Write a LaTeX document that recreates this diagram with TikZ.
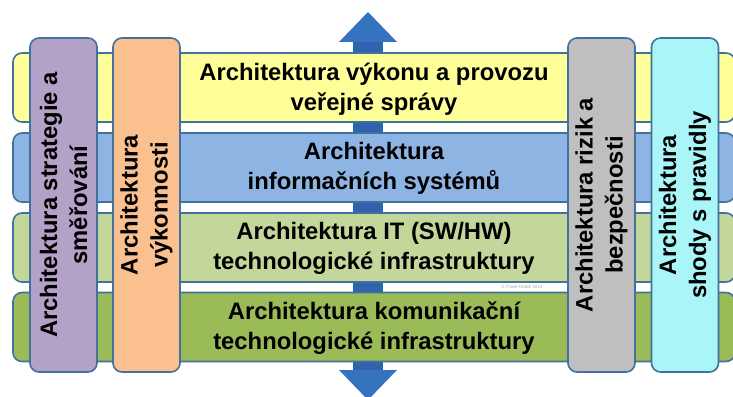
\documentclass[tikz,border=0pt]{standalone}
\usepackage{fontspec}
\setmainfont{Liberation Sans}
\definecolor{edgec}{HTML}{41719C}
\definecolor{arrowc}{HTML}{3572C0}
\definecolor{shaftc}{HTML}{2F64AD}
\definecolor{bandA}{HTML}{FFFF99}
\definecolor{bandB}{HTML}{8EB4E3}
\definecolor{bandC}{HTML}{C4D79B}
\definecolor{bandD}{HTML}{9BBB59}
\definecolor{barA}{HTML}{B3A2C7}
\definecolor{barB}{HTML}{FAC090}
\definecolor{barC}{HTML}{BFBFBF}
\definecolor{barD}{HTML}{AAF5F7}
\begin{document}
\begin{tikzpicture}[x=1pt,y=-1pt,
  lbl/.style={font=\bfseries\fontsize{23.8}{30}\selectfont, align=center, text=black},
  band/.style={draw=edgec, line width=1.6pt, rounded corners=9pt, inner sep=0pt,
    minimum width=722pt, minimum height=69pt, lbl},
  pillar/.style={draw=edgec, line width=1.6pt, rounded corners=9pt, inner sep=0pt,
    rotate=90, minimum width=334pt, minimum height=67pt, lbl}]
\useasboundingbox[fill=white] (0,0) rectangle (733,396);

% vertical double arrow behind the layers
\fill[shaftc] (353,40) rectangle (383,372);
\fill[arrowc] (368,12) -- (397,42) -- (339,42) -- cycle;
\fill[arrowc] (368,400) -- (397,370) -- (339,370) -- cycle;

% horizontal layers
\node[band, fill=bandA] (l1) at (374,87.5) {\hspace*{0pt}};
\node[band, fill=bandB] (l2) at (374,167.5) {\hspace*{0pt}};
\node[band, fill=bandC] (l3) at (374,247.5) {\hspace*{0pt}};
\node[band, fill=bandD] (l4) at (374,327) {\hspace*{0pt}};

\node[lbl] (t1) at (374,89) {Architektura výkonu a provozu\\veřejné správy};
\node[lbl] (t2) at (374,168) {Architektura\\informačních systémů};
\node[lbl] (t3) at (374,248) {Architektura IT (SW/HW)\\technologické infrastruktury};
\node[lbl] (t4) at (374,328) {Architektura komunikační\\technologické infrastruktury};

\node[font=\fontsize{4.5}{5}\selectfont, text=black!35] (copy) at (522,287) {© Pavel Hrabě 2014};

% vertical cross-cutting architectures
\node[pillar, fill=barA] (p1) at (63.5,205) {Architektura strategie a\\směřování};
\node[pillar, fill=barB] (p2) at (146.5,205) {Architektura\\výkonnosti};
\node[pillar, fill=barC] (p3) at (601.5,205) {Architektura rizik a\\bezpečnosti};
\node[pillar, fill=barD] (p4) at (685,205) {Architektura\\shody s pravidly};
\end{tikzpicture}
\end{document}
